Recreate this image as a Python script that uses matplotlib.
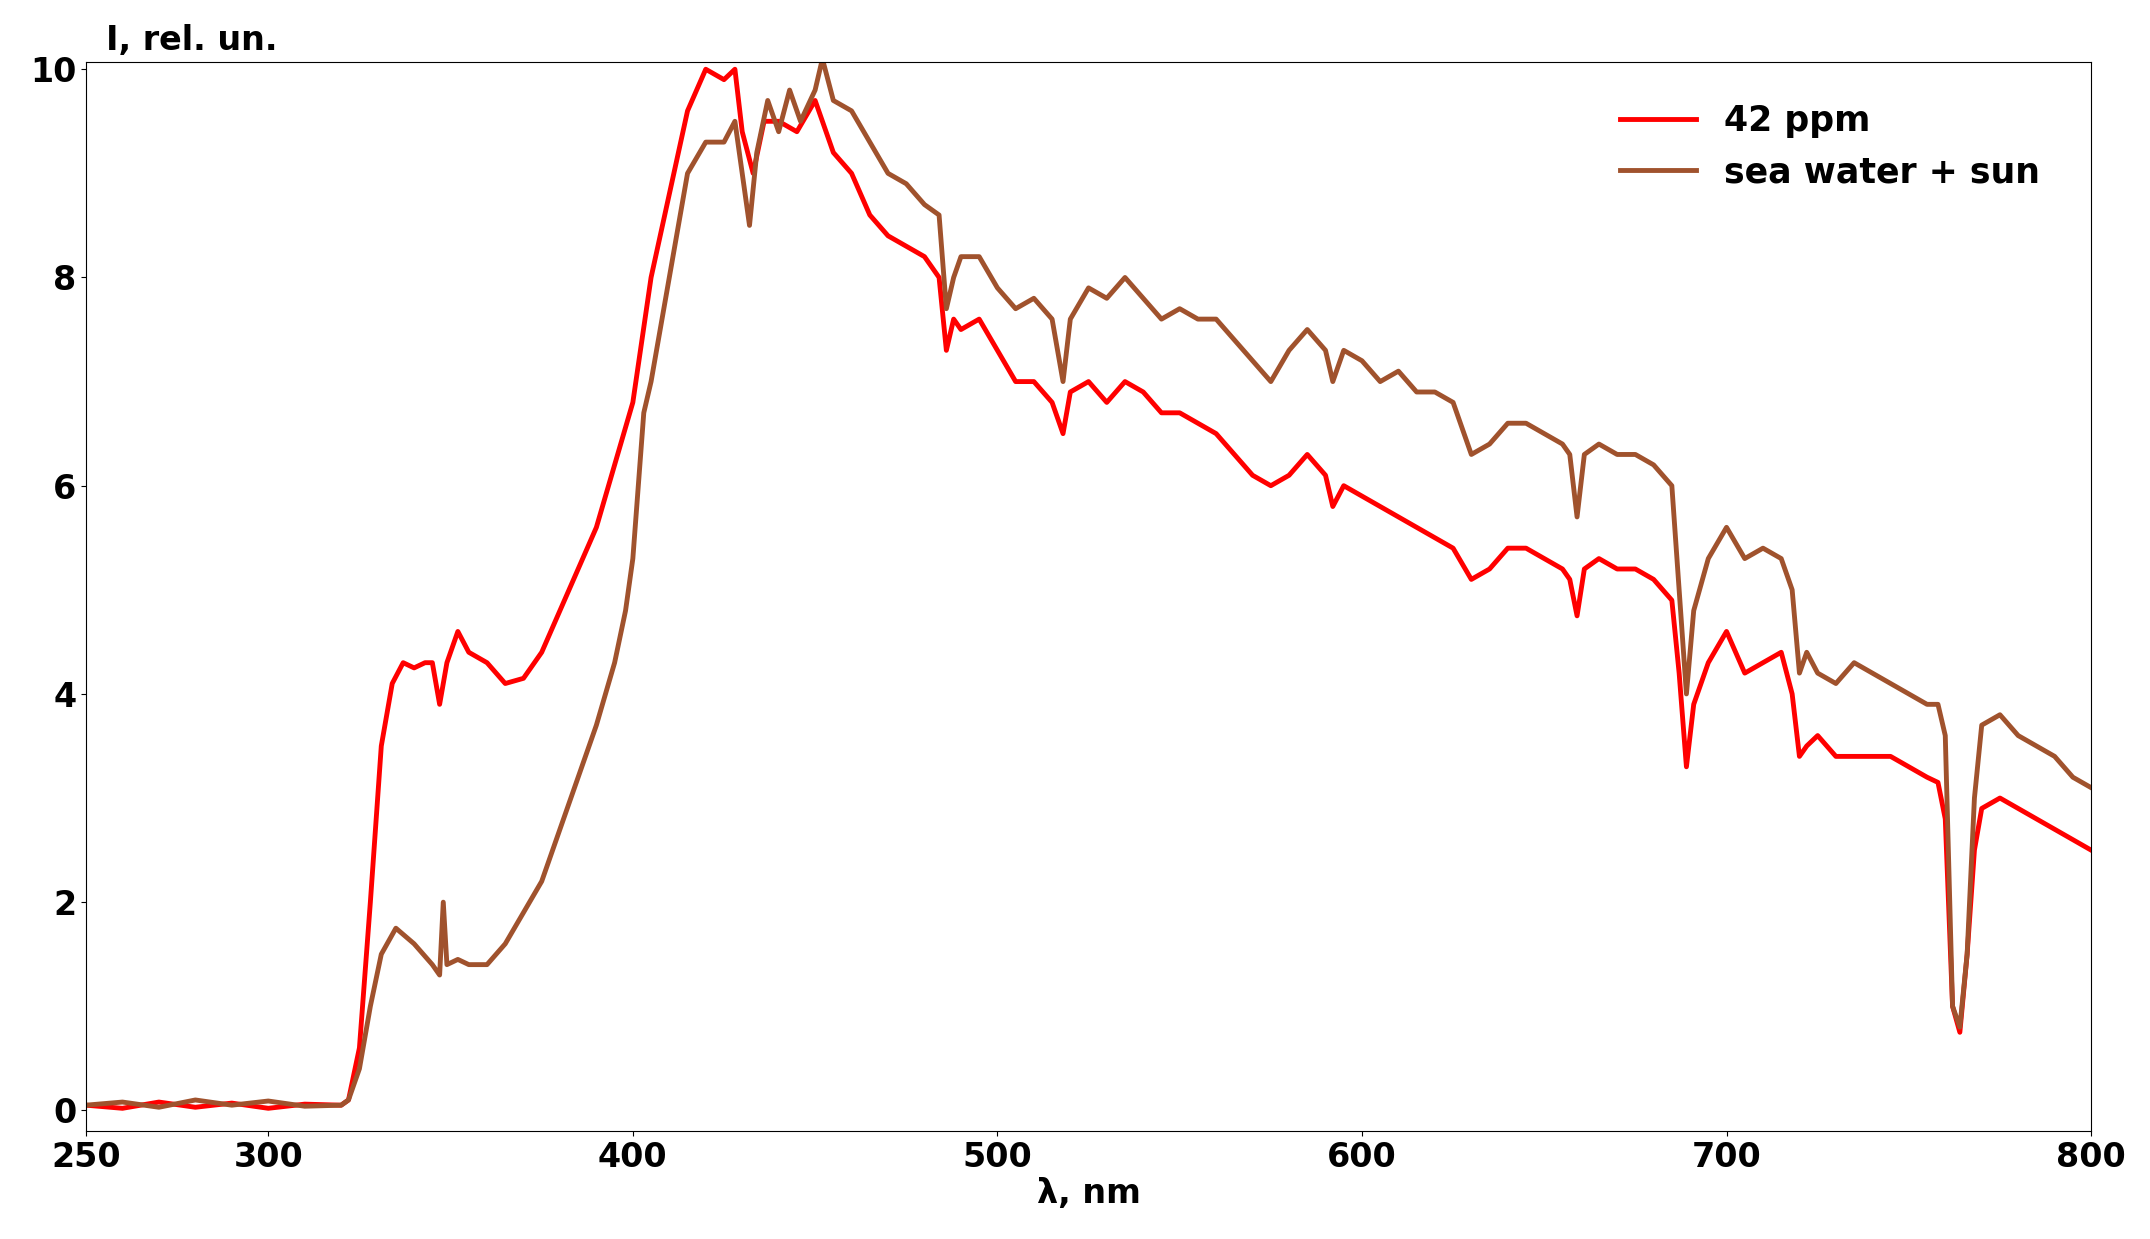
import matplotlib
matplotlib.use("Agg")
import matplotlib.pyplot as plt

wl_red = [250,260,270,280,290,300,310,320,322,325,328,331,334,337,340,343,345,347,349,352,355,360,365,370,375,380,385,390,395,400,405,410,415,420,425,428,430,433,436,440,445,450,455,460,465,470,475,480,484,486,488,490,495,500,505,510,515,518,520,525,530,535,540,545,550,555,560,565,570,575,580,585,590,592,595,600,605,610,615,620,625,630,635,640,645,650,655,657,659,661,665,670,675,680,685,687,689,691,695,700,705,710,715,718,720,722,725,730,740,745,750,755,758,760,762,764,766,768,770,775,780,785,790,795,800]
red = [0.05,0.02,0.08,0.03,0.07,0.02,0.06,0.05,0.1,0.6,2.0,3.5,4.1,4.3,4.25,4.3,4.3,3.9,4.3,4.6,4.4,4.3,4.1,4.15,4.4,4.8,5.2,5.6,6.2,6.8,8.0,8.8,9.6,10.0,9.9,10.0,9.4,9.0,9.5,9.5,9.4,9.7,9.2,9.0,8.6,8.4,8.3,8.2,8.0,7.3,7.6,7.5,7.6,7.3,7.0,7.0,6.8,6.5,6.9,7.0,6.8,7.0,6.9,6.7,6.7,6.6,6.5,6.3,6.1,6.0,6.1,6.3,6.1,5.8,6.0,5.9,5.8,5.7,5.6,5.5,5.4,5.1,5.2,5.4,5.4,5.3,5.2,5.1,4.75,5.2,5.3,5.2,5.2,5.1,4.9,4.2,3.3,3.9,4.3,4.6,4.2,4.3,4.4,4.0,3.4,3.5,3.6,3.4,3.4,3.4,3.3,3.2,3.15,2.8,1.0,0.75,1.5,2.5,2.9,3.0,2.9,2.8,2.7,2.6,2.5]

wl_brown = [250,260,270,280,290,300,310,320,322,325,328,331,335,340,345,347,348,349,352,355,360,365,370,375,380,385,390,395,398,400,403,405,410,415,420,425,428,430,432,434,437,440,443,446,450,452,455,460,465,470,475,480,484,486,488,490,495,500,505,510,515,518,520,525,530,535,540,545,550,555,560,565,570,575,580,585,590,592,595,600,605,610,615,620,625,630,635,640,645,650,655,657,659,661,665,670,675,680,685,687,689,691,695,700,705,710,715,718,720,722,725,730,735,740,745,750,755,758,760,762,764,766,768,770,775,780,785,790,795,800]
brown = [0.05,0.08,0.03,0.1,0.05,0.09,0.04,0.05,0.1,0.4,1.0,1.5,1.75,1.6,1.4,1.3,2.0,1.4,1.45,1.4,1.4,1.6,1.9,2.2,2.7,3.2,3.7,4.3,4.8,5.3,6.7,7.0,8.0,9.0,9.3,9.3,9.5,9.0,8.5,9.2,9.7,9.4,9.8,9.5,9.8,10.1,9.7,9.6,9.3,9.0,8.9,8.7,8.6,7.7,8.0,8.2,8.2,7.9,7.7,7.8,7.6,7.0,7.6,7.9,7.8,8.0,7.8,7.6,7.7,7.6,7.6,7.4,7.2,7.0,7.3,7.5,7.3,7.0,7.3,7.2,7.0,7.1,6.9,6.9,6.8,6.3,6.4,6.6,6.6,6.5,6.4,6.3,5.7,6.3,6.4,6.3,6.3,6.2,6.0,5.0,4.0,4.8,5.3,5.6,5.3,5.4,5.3,5.0,4.2,4.4,4.2,4.1,4.3,4.2,4.1,4.0,3.9,3.9,3.6,1.0,0.8,1.5,3.0,3.7,3.8,3.6,3.5,3.4,3.2,3.1]

plt.rcParams['font.family'] = 'DejaVu Sans'
plt.rcParams['font.weight'] = 'bold'
fig = plt.figure(figsize=(21.5, 12.39), dpi=100)
ax = fig.add_axes([0.040, 0.087, 0.9326, 0.863])
ax.plot(wl_red, red, color='#ff0000', lw=3.5, label='42 ppm')
ax.plot(wl_brown, brown, color='#a0522d', lw=3.5, label='sea water + sun')
ax.set_xlim(250, 800)
ax.set_ylim(-0.2, 10.07)
ax.set_xticks([250, 300, 400, 500, 600, 700, 800])
ax.set_yticks([0, 2, 4, 6, 8, 10])
ax.tick_params(labelsize=24)
for t in ax.get_xticklabels() + ax.get_yticklabels():
    t.set_fontweight('bold')
ax.set_xlabel('λ, nm', fontsize=24, fontweight='bold', labelpad=2)
ax.text(0.01, 1.005, 'I, rel. un.', transform=ax.transAxes, fontsize=24, fontweight='bold', va='bottom')
ax.legend(loc='upper right', bbox_to_anchor=(0.99, 0.99), frameon=False,
          prop={'weight': 'bold', 'size': 25}, handlelength=2.2)
fig.savefig('out.png', dpi=100)
